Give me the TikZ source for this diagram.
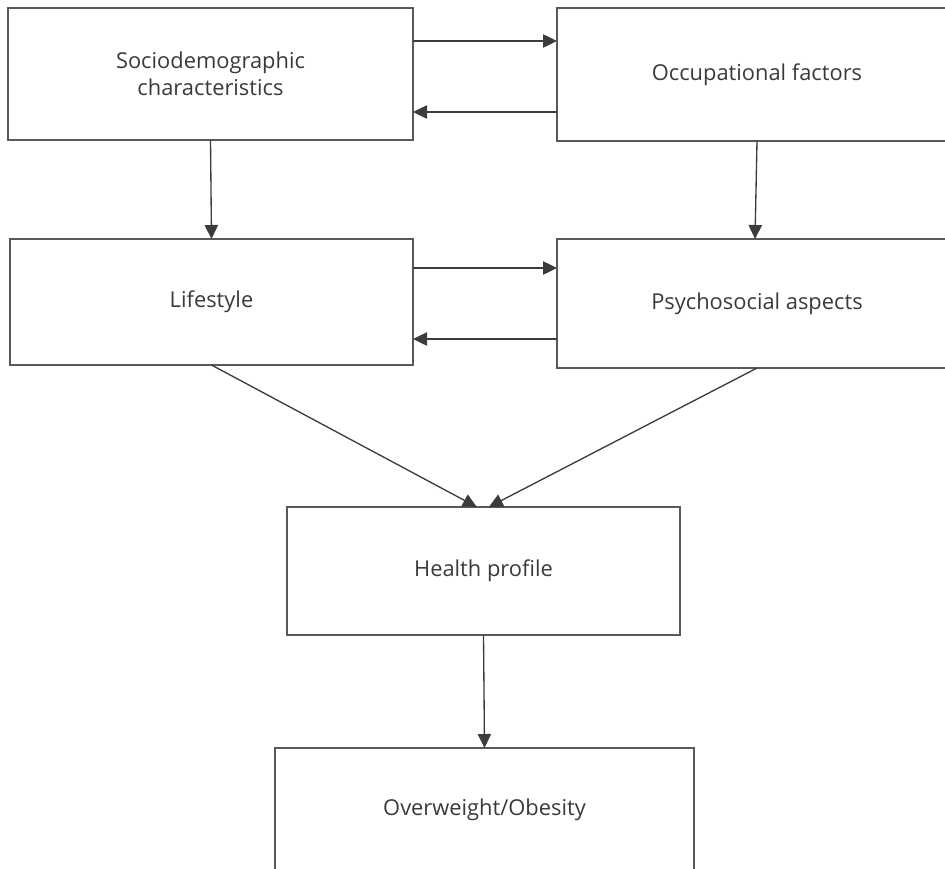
\documentclass[tikz,border=0pt]{standalone}
\usepackage{fontspec}
\setmainfont{Open Sans}
\usetikzlibrary{arrows.meta}
\definecolor{txt}{HTML}{3A3A3A}
\definecolor{ln}{HTML}{3C3C3C}
\begin{document}
\begin{tikzpicture}[x=0.75pt,y=-0.75pt,
  box/.style={draw=ln!85, line width=1.1pt, rectangle, outer sep=0pt, inner sep=0pt,
    text=txt, align=center, font=\fontsize{16.4}{20.3}\selectfont},
  arr/.style={draw=ln, line width=1.0pt, -{Triangle[length=10.5pt,width=10pt]}}]
\useasboundingbox (0,0) rectangle (945,868);
\clip (0,0) rectangle (945,868);
\node[box, minimum width=303.75pt, minimum height=99pt] (socio) at (210.5,74) {Sociodemographic\\characteristics};
\node[box, minimum width=300pt, minimum height=99.75pt] (occ) at (757,74.5) {Occupational factors};
\node[box, minimum width=302.25pt, minimum height=94.5pt] (life) at (211.5,302) {Lifestyle};
\node[box, minimum width=300pt, minimum height=96.75pt] (psy) at (757,303.5) {Psychosocial aspects};
\node[box, minimum width=294.75pt, minimum height=96pt] (health) at (483.5,571) {Health profile};
\node[box, minimum width=314.25pt, minimum height=93pt] (ow) at (484.5,810) {Overweight/Obesity};
\draw[arr] (socio.east |- 0,41) -- (occ.west |- 0,41);
\draw[arr] (occ.west |- 0,112) -- (socio.east |- 0,112);
\draw[arr] (life.east |- 0,268) -- (psy.west |- 0,268);
\draw[arr] (psy.west |- 0,339) -- (life.east |- 0,339);
\draw[arr] (socio.south) -- (life.north);
\draw[arr] (occ.south) -- ([xshift=-1.5pt]psy.north);
\draw[arr] (life.south) -- ([xshift=-5pt]health.north);
\draw[arr] (psy.south) -- ([xshift=4pt]health.north);
\draw[arr] (health.south) -- (ow.north);
\end{tikzpicture}
\end{document}
